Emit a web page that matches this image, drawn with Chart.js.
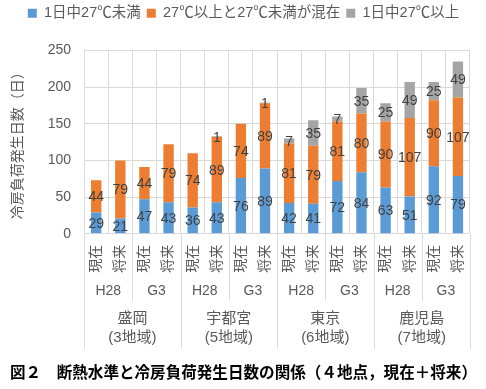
<!DOCTYPE html>
<html>
<head>
<meta charset="utf-8">
<script src="https://cdn.jsdelivr.net/npm/chart.js@4"></script>
<style>
  html, body { margin: 0; padding: 0; background: #fff; }
  #wrap { width: 486px; height: 389px; }
</style>
</head>
<body>
<div id="wrap"><canvas id="coolingChart"></canvas></div>
<script>
const categories = ['現在', '将来', '現在', '将来', '現在', '将来', '現在', '将来',
                    '現在', '将来', '現在', '将来', '現在', '将来', '現在', '将来'];
const periods = ['H28', 'G3', 'H28', 'G3', 'H28', 'G3', 'H28', 'G3'];
const cities = [['盛岡', '(3地域)'], ['宇都宮', '(5地域)'], ['東京', '(6地域)'], ['鹿児島', '(7地域)']];

const below27 = [29, 21, 47, 43, 36, 43, 76, 89, 42, 41, 72, 84, 63, 51, 92, 79];
const mixed   = [44, 79, 44, 79, 74, 89, 74, 89, 81, 79, 81, 80, 90, 107, 90, 107];
const above27 = [0, 0, 0, 0, 0, 1, 0, 1, 7, 35, 7, 35, 25, 49, 25, 49];

const FONT = '"Liberation Sans", "Noto Sans CJK JP", sans-serif';
const GRID = '#d9d9d9';
const TEXT = '#595959';

// value labels in the middle of each segment
const segmentLabels = {
    id: 'segmentLabels',
    afterDatasetsDraw(chart) {
        const { ctx } = chart;
        ctx.save();
        ctx.font = '14px ' + FONT;
        ctx.fillStyle = '#404040';
        ctx.textAlign = 'center';
        ctx.textBaseline = 'middle';
        chart.data.datasets.forEach((ds, i) => {
            chart.getDatasetMeta(i).data.forEach((bar, j) => {
                const v = ds.data[j];
                if (!v) return;
                ctx.fillText(String(v), bar.x, (bar.y + bar.base) / 2 + 1);
            });
        });
        ctx.restore();
    }
};

// separator lines in the multi-level category area
const groupLines = {
    id: 'groupLines',
    afterDraw(chart) {
        const { ctx, chartArea } = chart;
        const x2 = chart.scales.x2;
        const x3 = chart.scales.x3;
        const step = (chartArea.right - chartArea.left) / categories.length;
        ctx.save();
        ctx.strokeStyle = GRID;
        ctx.lineWidth = 1;
        for (let k = 0; k <= categories.length; k += 2) {
            const px = Math.round(chartArea.left + k * step) + 0.5;
            const end = (k % 4 === 0) ? x3.bottom : x2.bottom;
            ctx.beginPath();
            ctx.moveTo(px, chartArea.bottom);
            ctx.lineTo(px, end);
            ctx.stroke();
        }
        ctx.restore();
    }
};

// extra room below the legend
const legendGap = {
    id: 'legendGap',
    beforeInit(chart) {
        const fit = chart.legend.fit;
        chart.legend.fit = function () {
            fit.bind(chart.legend)();
            this.height += 20;
        };
    }
};

new Chart(document.getElementById('coolingChart'), {
    type: 'bar',
    data: {
        labels: categories,
        datasets: [
            { label: '1日中27℃未満', data: below27, backgroundColor: '#5b9bd5' },
            { label: '27℃以上と27℃未満が混在', data: mixed, backgroundColor: '#ed7d31' },
            { label: '1日中27℃以上', data: above27, backgroundColor: '#a5a5a5' }
        ]
    },
    options: {
        responsive: true,
        maintainAspectRatio: false,
        animation: false,
        layout: { padding: { left: 10, right: 9, top: 0, bottom: 0 } },
        datasets: {
            bar: { categoryPercentage: 0.86, barPercentage: 0.5 }
        },
        scales: {
            x: {
                stacked: true,
                grid: { color: GRID, drawTicks: false, offset: true },
                border: { color: GRID },
                ticks: {
                    color: TEXT,
                    font: { family: FONT, size: 14 },
                    maxRotation: 90,
                    minRotation: 90,
                    autoSkip: false,
                    padding: 11
                },
                afterFit: (s) => { s.height = 40; }
            },
            x2: {
                type: 'category',
                position: 'bottom',
                labels: periods,
                offset: true,
                weight: 1,
                grid: { display: false, drawTicks: false },
                border: { display: false },
                ticks: { color: TEXT, font: { family: FONT, size: 14 }, padding: 8.6, autoSkip: false, maxRotation: 0 },
                afterFit: (s) => { s.height = 27; }
            },
            x3: {
                type: 'category',
                position: 'bottom',
                labels: cities,
                offset: true,
                weight: 2,
                grid: { display: false, drawTicks: false },
                border: { display: false },
                ticks: { color: TEXT, font: { family: FONT, size: 15, lineHeight: 1.3 }, padding: 8, autoSkip: false, maxRotation: 0 },
                afterFit: (s) => { s.height = 48; }
            },
            y: {
                stacked: true,
                min: 0,
                max: 250,
                grid: { color: GRID, drawTicks: false },
                border: { display: false },
                ticks: {
                    stepSize: 50,
                    color: TEXT,
                    font: { family: FONT, size: 14 },
                    padding: 13
                },
                title: {
                    display: true,
                    text: '冷房負荷発生日数（日）',
                    color: TEXT,
                    font: { family: FONT, size: 14 },
                    padding: { top: 0, bottom: 8 }
                }
            }
        },
        plugins: {
            legend: {
                position: 'top',
                labels: {
                    color: TEXT,
                    font: { family: FONT, size: 14.5 },
                    boxWidth: 9,
                    boxHeight: 9,
                    padding: 6
                }
            },
            title: {
                display: true,
                position: 'bottom',
                align: 'start',
                text: '図２　断熱水準と冷房負荷発生日数の関係（４地点，現在＋将来）',
                color: '#000',
                font: { family: FONT, size: 16, weight: 'bold' },
                padding: { top: 15, bottom: 6 }
            },
            tooltip: { enabled: false }
        }
    },
    plugins: [segmentLabels, groupLines, legendGap]
});
</script>
</body>
</html>
